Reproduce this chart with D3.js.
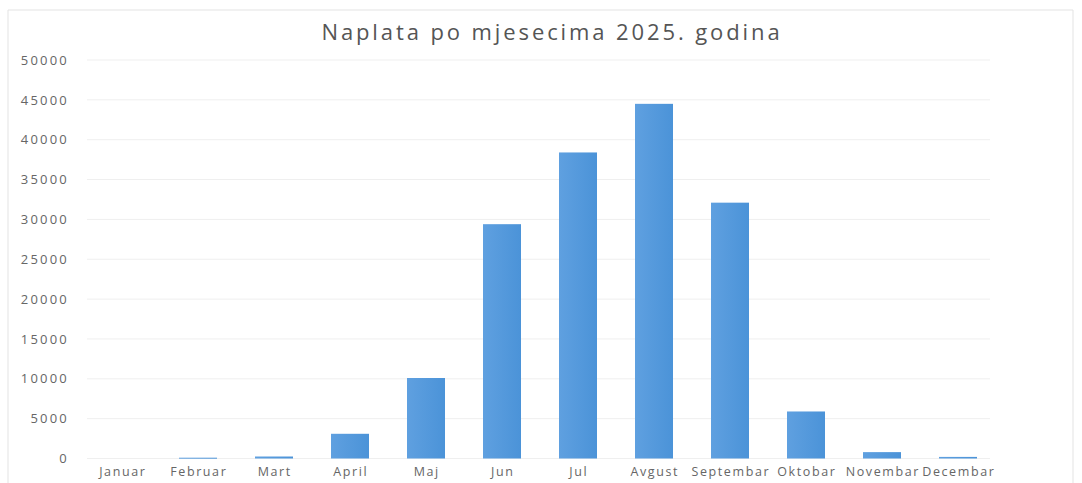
<!DOCTYPE html>
<html>
<head>
<meta charset="utf-8">
<script src="https://cdn.jsdelivr.net/npm/d3@7"></script>
<style>
  body { margin: 0; background: #fff; }
  svg { display: block; font-family: 'Open Sans', sans-serif; }
</style>
</head>
<body>
<svg id="chart" width="1082" height="483"></svg>
<script>
const months = ['Januar','Februar','Mart','April','Maj','Jun','Jul','Avgust','Septembar','Oktobar','Novembar','Decembar']
const values = [0, 100, 250, 3100, 10100, 29400, 38400, 44500, 32100, 5900, 800, 200]
const yTicks = [0, 5000, 10000, 15000, 20000, 25000, 30000, 35000, 40000, 45000, 50000]
const title = 'Naplata po mjesecima 2025. godina'

const svg = d3.select('#chart')
const width = 1082, height = 483
const m = {left: 84, right: 1082 - 996, top: 60, bottom: 483 - 458.5}

// outer chart frame, only top and left edges are visible in the photo
svg.append('path')
    .attr('d', 'M 8 483 L 8 10 L 1073 10 L 1073 483')
    .attr('fill', 'none')
    .attr('stroke', '#e3e3e3')

let x = d3.scaleBand()
    .domain(months)
    .range([m.left, width - m.right])
    .paddingInner(0.5)
    .paddingOuter(0.25)

let y = d3.scaleLinear()
    .domain([0, 50000])
    .range([height - m.bottom, m.top])

// gridlines
svg.append('g')
    .selectAll('line')
    .data(yTicks)
    .join('line')
        .attr('x1', m.left + 3)
        .attr('x2', width - m.right - 6)
        .attr('y1', d => y(d))
        .attr('y2', d => y(d))
        .attr('stroke', '#efefef')
        .attr('stroke-width', 1)

// y axis labels (letter-spacing leaves a trailing gap, so shift a bit right)
let yAxis = svg.append('g')
    .attr('transform', 'translate(69,0)')
    .call(d3.axisLeft(y).tickValues(yTicks).tickSize(0).tickPadding(0).tickFormat(d3.format('d')))
yAxis.select('.domain').remove()
yAxis.selectAll('text')
    .attr('fill', '#666')
    .attr('font-size', 13)
    .attr('letter-spacing', 2.2)
    .attr('font-family', "'Open Sans', sans-serif")

// bars
let grad = svg.append('defs').append('linearGradient')
    .attr('id', 'barGrad')
    .attr('x1', 0).attr('x2', 1).attr('y1', 0).attr('y2', 0)
grad.append('stop').attr('offset', '0%').attr('stop-color', '#5fa0e0')
grad.append('stop').attr('offset', '100%').attr('stop-color', '#4b93d8')

svg.append('g')
    .selectAll('rect')
    .data(values)
    .join('rect')
        .attr('x', (d, i) => x(months[i]))
        .attr('width', x.bandwidth())
        .attr('y', d => y(d))
        .attr('height', d => Math.max(y(0) - y(d), d > 0 ? 1 : 0))
        .attr('fill', 'url(#barGrad)')

// x axis labels
let xAxis = svg.append('g')
    .attr('transform', 'translate(0.8,' + (height - m.bottom) + ')')
    .call(d3.axisBottom(x).tickSize(0).tickPadding(9))
xAxis.select('.domain').remove()
xAxis.selectAll('text')
    .attr('fill', '#666')
    .attr('font-size', 12.5)
    .attr('letter-spacing', 1.6)
    .attr('font-family', "'Open Sans', sans-serif")

// title
svg.append('text')
    .attr('x', 552)
    .attr('y', 40)
    .attr('text-anchor', 'middle')
    .attr('fill', '#555')
    .attr('font-size', 22)
    .attr('letter-spacing', 2.9)
    .text(title)
</script>
</body>
</html>
